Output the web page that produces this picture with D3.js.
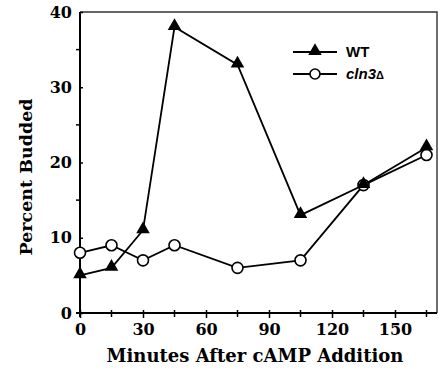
<!DOCTYPE html>
<html>
<head>
<meta charset="utf-8">
<script src="https://cdn.jsdelivr.net/npm/d3@7"></script>
<style>
  body { margin: 0; background: #fff; }
  svg text { font-family: "DejaVu Serif", "Liberation Serif", serif; font-weight: bold; }
</style>
</head>
<body>
<svg id="chart" width="438" height="370"></svg>
<script>
// data
const minutes = [0, 15, 30, 45, 75, 105, 135, 165];
const wtValues = [5, 6, 11, 38, 33, 13, 17, 22];
const cln3Values = [8, 9, 7, 9, 6, 7, 17, 21];
const xTickLabels = [0, 30, 60, 90, 120, 150];
const yTickLabels = [0, 10, 20, 30, 40];

const svg = d3.select("#chart");
const plotL = 80, plotR = 437, plotT = 12, plotB = 313;

const x = d3.scaleLinear().domain([0, 170]).range([plotL, plotR]);
const y = d3.scaleLinear().domain([0, 40]).range([plotB, plotT]);

// frame (top + right)
svg.append("path")
  .attr("d", `M${plotL},${plotT}H${plotR}V${plotB}`)
  .attr("fill", "none").attr("stroke", "#333").attr("stroke-width", 1.4);

// x axis
const xAxis = svg.append("g").attr("transform", `translate(0,${plotB})`)
  .call(d3.axisBottom(x).tickValues(xTickLabels).tickSize(5).tickPadding(6));
xAxis.append("g").selectAll("line")
  .data(d3.range(15, 170, 30))
  .join("line")
  .attr("x1", d => x(d)).attr("x2", d => x(d))
  .attr("y1", -3).attr("y2", 4).attr("stroke", "#000").attr("stroke-width", 1.5);
xAxis.select(".domain").attr("d", `M${plotL - 4},0H${plotR}`).attr("stroke-width", 2);
xAxis.selectAll(".tick line").attr("y1", -3).attr("stroke-width", 1.5);
xAxis.selectAll("text").attr("font-size", 16).attr("fill", "#000");

// y axis
const yAxis = svg.append("g").attr("transform", `translate(${plotL},0)`)
  .call(d3.axisLeft(y).tickValues(yTickLabels).tickSize(5).tickPadding(3));
yAxis.append("g").selectAll("line")
  .data(d3.range(5, 40, 10))
  .join("line")
  .attr("y1", d => y(d)).attr("y2", d => y(d))
  .attr("x1", -4).attr("x2", 0).attr("stroke", "#000").attr("stroke-width", 1.5);
yAxis.select(".domain").attr("d", `M0,${plotT}V${plotB + 4}`).attr("stroke-width", 2);
yAxis.selectAll(".tick line").attr("x2", 3).attr("stroke-width", 1.5);
yAxis.selectAll("text").attr("font-size", 16).attr("fill", "#000");

// axis titles
svg.append("text")
  .attr("x", 255).attr("y", 362)
  .attr("text-anchor", "middle").attr("font-size", 18)
  .text("Minutes After cAMP Addition");
svg.append("text")
  .attr("transform", "translate(32,177) rotate(-90)")
  .attr("text-anchor", "middle").attr("font-size", 17.5)
  .text("Percent Budded");

const line = d3.line().x(d => x(d[0])).y(d => y(d[1]));
const tri = d3.symbol().type(d3.symbolTriangle).size(80);

function drawSeries(values, marker) {
  const pts = minutes.map((m, i) => [m, values[i]]);
  svg.append("path").datum(pts)
    .attr("d", line).attr("fill", "none")
    .attr("stroke", "#000").attr("stroke-width", 1.8);
  if (marker === "tri") {
    svg.append("g").selectAll("path").data(pts).join("path")
      .attr("d", tri)
      .attr("transform", d => `translate(${x(d[0])},${y(d[1]) - 1})`)
      .attr("fill", "#000");
  } else {
    svg.append("g").selectAll("circle").data(pts).join("circle")
      .attr("cx", d => x(d[0])).attr("cy", d => y(d[1])).attr("r", 5.5)
      .attr("fill", "#fff").attr("stroke", "#000").attr("stroke-width", 1.6);
  }
}

drawSeries(cln3Values, "circ");
drawSeries(wtValues, "tri");

// legend
const legend = svg.append("g").attr("transform", "translate(293,0)");
legend.append("line").attr("x1", 0).attr("x2", 44).attr("y1", 52).attr("y2", 52)
  .attr("stroke", "#000").attr("stroke-width", 1.8);
legend.append("path").attr("d", tri).attr("transform", "translate(22,51)");
legend.append("text").attr("x", 53).attr("y", 57)
  .style("font-family", "'Liberation Sans', Arial, sans-serif")
  .attr("font-size", 15).text("WT");
legend.append("line").attr("x1", 0).attr("x2", 44).attr("y1", 74).attr("y2", 74)
  .attr("stroke", "#000").attr("stroke-width", 1.8);
legend.append("circle").attr("cx", 22).attr("cy", 74).attr("r", 5)
  .attr("fill", "#fff").attr("stroke", "#000").attr("stroke-width", 1.6);
const lt = legend.append("text").attr("x", 53).attr("y", 79)
  .style("font-family", "'Liberation Sans', Arial, sans-serif")
  .attr("font-size", 15);
lt.append("tspan").attr("font-style", "italic").text("cln3");
lt.append("tspan").attr("font-size", 11).text("Δ");
</script>
</body>
</html>
